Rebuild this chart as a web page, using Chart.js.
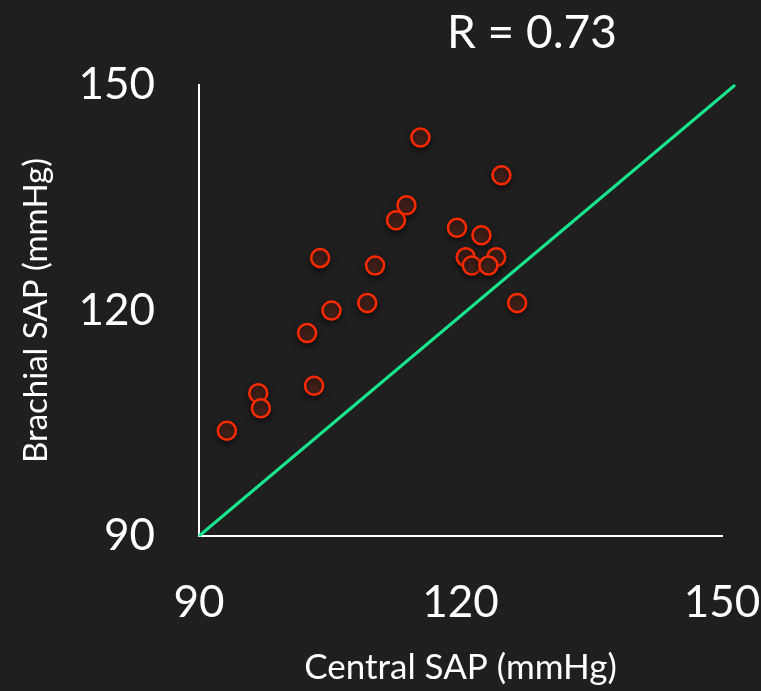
<!DOCTYPE html>
<html>
<head>
<meta charset="utf-8">
<script src="https://cdn.jsdelivr.net/npm/chart.js@4/dist/chart.umd.min.js"></script>
<style>
    html, body { margin: 0; padding: 0; background: #1f1f1f; }
    #wrap { width: 761px; height: 691px; }
</style>
</head>
<body>
<div id="wrap"><canvas id="chart"></canvas></div>
<script>
// Central vs brachial systolic pressure, one point per subject.
const centralSAP = [115.4, 124.7, 113.8, 112.6, 119.6, 122.4, 103.9, 110.2, 120.6, 121.3,
    124.1, 123.2, 109.3, 105.2, 126.5, 102.4, 96.8, 97.1, 103.2, 93.2];
const brachialSAP = [143.0, 138.0, 134.0, 132.0, 131.0, 130.0, 127.0, 126.0, 127.1, 126.0,
    127.1, 126.0, 121.0, 120.0, 121.0, 117.0, 109.0, 107.0, 110.0, 104.0];

// Line of identity (slightly overshoots the x axis end).
const identityX = [90, 151.5];
const identityY = [90, 150];

const axisTicks = [90, 120, 150];
const correlationLabel = "R = 0.73";

const FONT = "Lato, 'Open Sans', sans-serif";

const toPoints = (xs, ys) => xs.map((x, i) => ({ x: x, y: ys[i] }));

// Draws the correlation text above the plot.
const rLabel = {
    id: "rLabel",
    afterDraw(chart) {
        const ctx = chart.ctx;
        const area = chart.chartArea;
        ctx.save();
        ctx.fillStyle = "#ffffff";
        ctx.font = "46px " + FONT;
        ctx.textAlign = "left";
        ctx.textBaseline = "alphabetic";
        ctx.fillText(correlationLabel, area.left + 248, area.top - 37);
        ctx.restore();
    },
};

// Soft shadow under the markers.
const markerShadow = {
    id: "markerShadow",
    beforeDatasetDraw(chart, args) {
        if (args.index !== 0) return;
        const ctx = chart.ctx;
        ctx.save();
        ctx.shadowColor = "rgba(0,0,0,0.55)";
        ctx.shadowBlur = 6;
        ctx.shadowOffsetY = 3;
    },
    afterDatasetDraw(chart, args) {
        if (args.index !== 0) return;
        chart.ctx.restore();
    },
};

const tickValues = (axis) => {
    axis.ticks = axisTicks.map((v) => ({ value: v }));
};

new Chart(document.getElementById("chart"), {
    type: "scatter",
    data: {
        datasets: [
            {
                data: toPoints(centralSAP, brachialSAP),
                backgroundColor: "#42201a",
                borderColor: "#ff2a00",
                borderWidth: 2.5,
                pointRadius: 9,
                order: 1,
            },
            {
                data: toPoints(identityX, identityY),
                showLine: true,
                borderColor: "#19e68c",
                borderWidth: 3,
                pointRadius: 0,
                clip: false,
                order: 2,
            },
        ],
    },
    options: {
        responsive: true,
        maintainAspectRatio: false,
        animation: false,
        layout: { padding: { top: 85, right: 39, left: 0, bottom: 0 } },
        plugins: {
            legend: { display: false },
            tooltip: { enabled: false },
        },
        scales: {
            x: {
                type: "linear",
                min: 90,
                max: 150,
                afterBuildTicks: tickValues,
                // the big tick padding would otherwise widen the side margins
                afterFit: (scale) => {
                    scale.height = 155;
                    scale.paddingLeft = 0;
                    scale.paddingRight = 0;
                },
                grid: { display: false, drawTicks: false },
                border: { display: true, color: "#ffffff", width: 2 },
                ticks: {
                    color: "#ffffff",
                    font: { family: FONT, size: 44 },
                    padding: 40,
                },
                title: {
                    display: true,
                    text: "Central SAP (mmHg)",
                    color: "#ffffff",
                    font: { family: FONT, size: 35 },
                    padding: { top: 30, bottom: 2 },
                },
            },
            y: {
                type: "linear",
                min: 90,
                max: 150,
                afterBuildTicks: tickValues,
                afterFit: (scale) => {
                    scale.width = 199;
                    scale.paddingTop = 0;
                    scale.paddingBottom = 0;
                },
                grid: { display: false, drawTicks: false },
                border: { display: true, color: "#ffffff", width: 2 },
                ticks: {
                    color: "#ffffff",
                    font: { family: FONT, size: 44 },
                    padding: 44,
                },
                title: {
                    display: true,
                    text: "Brachial SAP (mmHg)",
                    color: "#ffffff",
                    font: { family: FONT, size: 33 },
                    padding: { top: 17, bottom: 0 },
                },
            },
        },
    },
    plugins: [rLabel, markerShadow],
});
</script>
</body>
</html>
